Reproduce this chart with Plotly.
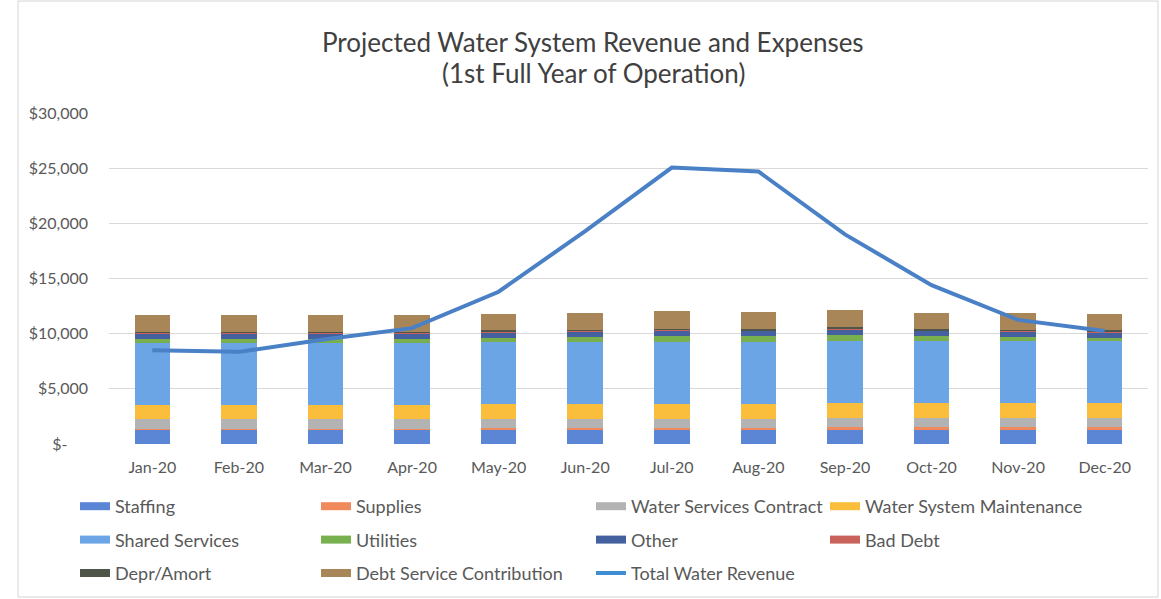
import plotly.graph_objects as go

# Monthly categories
months = ["Jan-20", "Feb-20", "Mar-20", "Apr-20", "May-20", "Jun-20",
          "Jul-20", "Aug-20", "Sep-20", "Oct-20", "Nov-20", "Dec-20"]

# Expense components ($ per month)
staffing = [1300, 1300, 1300, 1300, 1300, 1300, 1300, 1300, 1300, 1300, 1300, 1300]
supplies = [100, 100, 100, 100, 150, 150, 150, 150, 250, 250, 250, 250]
water_services_contract = [850, 850, 850, 850, 850, 850, 850, 850, 850, 850, 850, 850]
water_system_maintenance = [1300, 1300, 1300, 1300, 1300, 1300, 1300, 1300, 1300, 1300, 1300, 1300]
shared_services = [5600, 5600, 5600, 5600, 5600, 5600, 5600, 5600, 5600, 5600, 5600, 5600]
utilities = [350, 350, 350, 350, 450, 500, 600, 550, 600, 450, 400, 350]
other = [500, 500, 500, 500, 500, 500, 500, 500, 500, 500, 500, 500]
bad_debt = [80, 80, 80, 80, 80, 80, 80, 80, 80, 80, 80, 80]
depr_amort = [80, 80, 80, 80, 80, 80, 80, 80, 80, 80, 80, 80]
debt_service = [1500, 1500, 1500, 1500, 1500, 1500, 1600, 1560, 1560, 1500, 1500, 1500]

# Revenue line ($ per month)
total_water_revenue = [8500, 8350, 9500, 10500, 13800, 19300,
                       25050, 24700, 19000, 14400, 11250, 10250]

# Axis ticks
y_tick_values = [0, 5000, 10000, 15000, 20000, 25000, 30000]
y_tick_labels = ["$-     ", "$5,000", "$10,000", "$15,000", "$20,000", "$25,000", "$30,000"]

series = [
    ("Staffing", staffing, "#5b86d6", "legend"),
    ("Supplies", supplies, "#f08a5d", "legend2"),
    ("Water Services Contract", water_services_contract, "#b3b3b3", "legend3"),
    ("Water System Maintenance", water_system_maintenance, "#fbbd3c", "legend4"),
    ("Shared Services", shared_services, "#6ba5e6", "legend"),
    ("Utilities", utilities, "#78b050", "legend2"),
    ("Other", other, "#44609e", "legend3"),
    ("Bad Debt", bad_debt, "#c8625a", "legend4"),
    ("Depr/Amort", depr_amort, "#4f5549", "legend"),
    ("Debt Service Contribution", debt_service, "#a88658", "legend2"),
]

font_family = "Lato, 'Open Sans', sans-serif"
text_color = "#595959"
line_color = "#4a80c6"

fig = go.Figure()

for name, values, color, _ in series:
    fig.add_trace(go.Bar(
        x=months, y=values, name=name,
        marker=dict(color=color, line=dict(width=0)),
        showlegend=False,
    ))

fig.add_trace(go.Scatter(
    x=months, y=total_water_revenue, name="Total Water Revenue",
    mode="lines", line=dict(color=line_color, width=4),
    showlegend=False,
))

# Legend entries drawn as wide swatches
for i, (name, values, color, leg) in enumerate(series):
    fig.add_trace(go.Scatter(
        x=[None], y=[None], name=name, mode="lines",
        line=dict(color=color, width=8),
        legend=leg, legendgroup=f"g{i}", showlegend=True,
    ))
fig.add_trace(go.Scatter(
    x=[None], y=[None], name="Total Water Revenue", mode="lines",
    line=dict(color="#3d8fd2", width=4),
    legend="legend3", legendgroup="g_rev", showlegend=True,
))

plot_left, plot_right = 109, 1148
plot_top, plot_bottom = 113, 444
pw = plot_right - plot_left
ph = plot_bottom - plot_top


def px_x(x):
    return (x - plot_left) / pw


def px_y(y):
    return (plot_bottom - y) / ph


legend_common = dict(
    orientation="v", yanchor="top", xanchor="left",
    font=dict(family=font_family, size=18, color=text_color),
    bgcolor="rgba(0,0,0,0)", tracegroupgap=7, itemwidth=30,
)
legend_top = px_y(488)

fig.update_layout(
    width=1161, height=599,
    margin=dict(l=plot_left, r=1161 - plot_right, t=plot_top, b=599 - plot_bottom,
                autoexpand=False),
    paper_bgcolor="white", plot_bgcolor="white",
    barmode="stack", bargap=0.59,
    font=dict(family=font_family, color=text_color),
    legend=dict(x=px_x(75), y=legend_top, **legend_common),
    legend2=dict(x=px_x(316), y=legend_top, **legend_common),
    legend3=dict(x=px_x(591), y=legend_top, **legend_common),
    legend4=dict(x=px_x(825), y=legend_top, **legend_common),
    xaxis=dict(
        type="category", showgrid=False, showline=False, ticks="",
        tickfont=dict(family=font_family, size=16, color=text_color),
        ticklabelstandoff=12, automargin=False,
    ),
    yaxis=dict(
        range=[0, 30000], tickvals=y_tick_values, ticktext=y_tick_labels,
        showgrid=True, gridcolor="#d9d9d9", gridwidth=1, zeroline=False,
        showline=False, ticks="",
        tickfont=dict(family=font_family, size=16, color=text_color),
        ticklabelstandoff=20, automargin=False,
    ),
    annotations=[
        dict(text="Projected Water System Revenue and Expenses",
             x=px_x(593), y=px_y(42), xref="paper", yref="paper",
             xanchor="center", yanchor="middle", showarrow=False,
             font=dict(family=font_family, size=26, color="#404040")),
        dict(text="(1st Full Year of Operation)",
             x=px_x(593), y=px_y(73), xref="paper", yref="paper",
             xanchor="center", yanchor="middle", showarrow=False,
             font=dict(family=font_family, size=26, color="#404040")),
    ],
    shapes=[
        dict(type="rect", xref="paper", yref="paper",
             x0=px_x(18), x1=px_x(1158), y0=px_y(597), y1=px_y(1),
             line=dict(color="#d4d4d4", width=1), fillcolor="rgba(0,0,0,0)",
             layer="below"),
    ],
)

fig.write_html("out.html")
